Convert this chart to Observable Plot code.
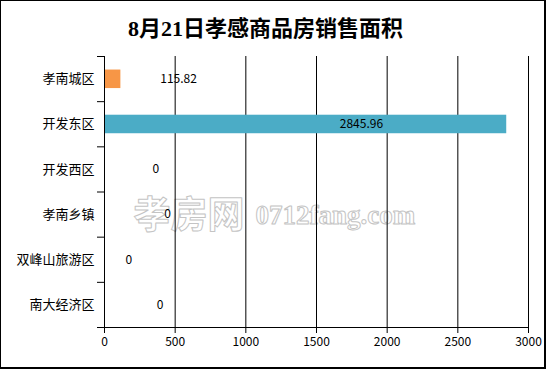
<!DOCTYPE html>
<html>
<head>
<meta charset="utf-8">
<script src="https://cdn.jsdelivr.net/npm/d3@7"></script>
<script src="https://cdn.jsdelivr.net/npm/@observablehq/plot@0.6"></script>
<style>
  html, body { margin: 0; padding: 0; background: white; }
  #chart {
    width: 546px; height: 369px; box-sizing: border-box;
    border-style: solid; border-color: black; border-width: 1px 2px 2px 1px;
    background: white; overflow: hidden;
  }
  #title {
    height: 40px; box-sizing: border-box; padding-top: 17px; padding-right: 14px;
    text-align: center; font: bold 22px "Liberation Serif", "Noto Sans CJK SC", serif;
    line-height: 22px; color: black;
  }
</style>
</head>
<body>
<div id="chart"><div id="title">8月21日孝感商品房销售面积</div></div>
<script>
// Data
const categories = ["孝南城区", "开发东区", "开发西区", "孝南乡镇", "双峰山旅游区", "南大经济区"];
const values = [115.82, 2845.96, 0, 0, 0, 0];
const valueLabels = ["115.82", "2845.96", "0", "0", "0", "0"];
const labelAt = [524, 1818, 364, 446, 173, 393];   // where each value label sits (data units)
const xTicks = [0, 500, 1000, 1500, 2000, 2500, 3000];

const palette = ["#F79646", "#4BACC6", "#8064A2", "#9BBB59", "#C0504D", "#4F81BD"];
const data = categories.map((c, i) => ({i, category: c, value: values[i], label: valueLabels[i], at: labelAt[i]}));
const n = categories.length;

const plot = Plot.plot({
  width: 543,
  height: 326,
  marginLeft: 103,
  marginRight: 16,
  marginTop: 15,
  marginBottom: 40,
  style: {fontFamily: '"Noto Sans CJK SC", "Noto Sans", sans-serif', fontSize: "12px", background: "transparent", overflow: "visible", color: "black"},
  x: {type: "linear", domain: [0, 3000]},
  y: {type: "linear", domain: [0, n], reverse: true},
  marks: [
    // watermark
    Plot.text(["孝房网"], {frameAnchor: "top-left", dx: 29, dy: 145, textAnchor: "start",
      fontSize: 37, fontWeight: "bold", letterSpacing: 4, fill: "white", stroke: "#c4c4c4", strokeWidth: 1, paintOrder: "normal"}),
    Plot.text(["0712fang.com"], {frameAnchor: "top-left", dx: 151, dy: 148, textAnchor: "start",
      fontSize: 27, fontWeight: "bold", fontFamily: "Liberation Serif", fill: "white", stroke: "#c4c4c4", strokeWidth: 1, paintOrder: "normal"}),
    // gridlines
    Plot.ruleX(xTicks.slice(1), {x: d => d, y1: () => 0, y2: () => n, stroke: "black"}),
    // bars
    Plot.rect(data.filter(d => d.value > 0), {x1: () => 0, x2: "value", y1: d => d.i + 0.3, y2: d => d.i + 0.71, fill: d => palette[d.i]}),
    // value labels
    Plot.text(data, {x: "at", y: d => d.i + 0.5, text: "label", fontSize: 12, fill: "black"}),
    // axes lines
    Plot.ruleX([0], {x: d => d, y1: () => 0, y2: () => n, stroke: "black"}),
    Plot.ruleY([n], {y: d => d, x1: () => 0, x2: () => 3000, stroke: "black"}),
    Plot.axisX({ticks: xTicks, tickSize: 6, tickPadding: 4, tickFormat: d => String(d), fontSize: 12, label: null}),
    Plot.axisY({ticks: d3.range(0, n + 1), tickSize: 7, tickFormat: () => "", label: null}),
    Plot.axisY({ticks: d3.range(n).map(i => i + 0.5), tickSize: 0, tickPadding: 10,
      tickFormat: v => categories[Math.floor(v)], fontSize: 13, label: null})
  ]
});
document.getElementById("chart").appendChild(plot);
</script>
</body>
</html>
